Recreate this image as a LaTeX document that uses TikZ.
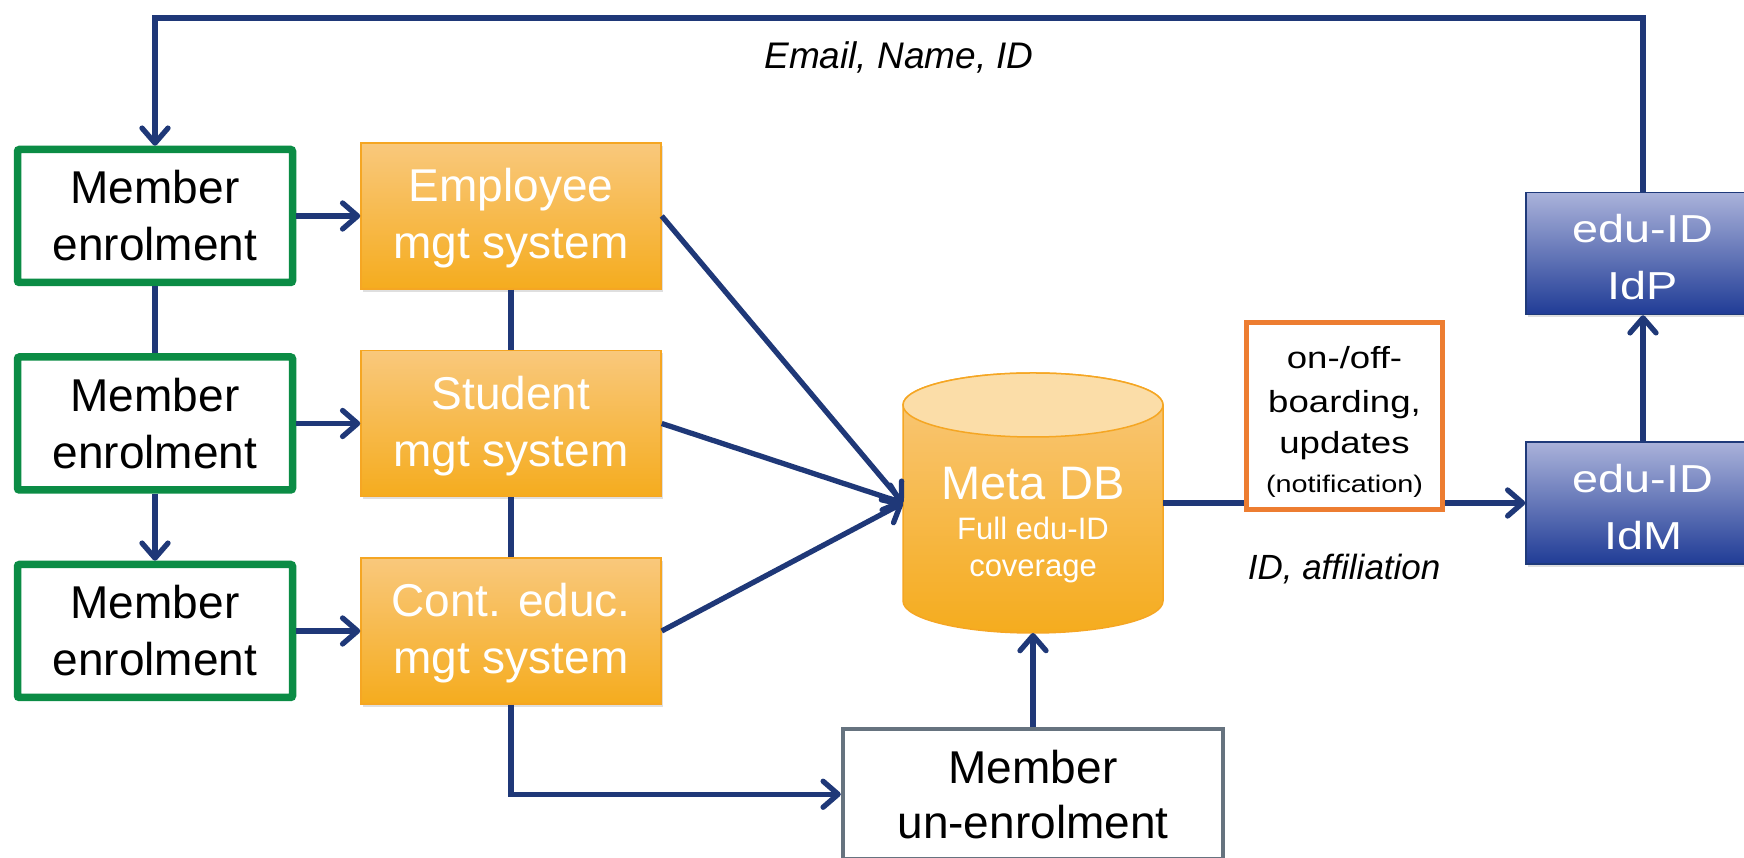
\documentclass[tikz,border=0pt]{standalone}
\usepackage{fontspec}
\setmainfont{Liberation Sans}
\newfontfamily\wfont[FakeStretch=1.2]{Liberation Sans}
\usetikzlibrary{positioning,arrows.meta,shadows}
\definecolor{linkblue}{RGB}{31,56,120}
\definecolor{enrolgreen}{RGB}{11,140,69}
\definecolor{sysorange}{RGB}{245,166,35}
\definecolor{systop}{RGB}{249,200,124}
\definecolor{sysbot}{RGB}{245,172,30}
\definecolor{dbtop}{RGB}{251,221,168}
\definecolor{notiforange}{RGB}{237,125,49}
\definecolor{idtop}{RGB}{170,178,218}
\definecolor{idbot}{RGB}{32,60,150}
\definecolor{idborder}{RGB}{31,58,122}
\definecolor{ungray}{RGB}{102,115,127}

\begin{document}
\begin{tikzpicture}[x=1pt,y=1pt,->,>={Straight Barb[length=15pt,width=26pt,round]},node distance=64pt,
	member/.style={draw=enrolgreen,line width=7.5pt,rounded corners=2pt,fill=white,minimum width=275pt,minimum height=133pt,align=center,font=\fontsize{46}{57}\selectfont},
	sysbox/.style={draw=sysorange,line width=1.5pt,top color=systop,bottom color=sysbot,minimum width=300pt,minimum height=146pt,align=center,text=white,font=\fontsize{46}{57}\selectfont,drop shadow={opacity=0.25,shadow xshift=1.5pt,shadow yshift=-3pt}},
	idbox/.style={draw=idborder,line width=1.5pt,top color=idtop,bottom color=idbot,minimum width=234pt,minimum height=122pt,align=center,text=white,font=\wfont\fontsize{39}{57}\selectfont,drop shadow={opacity=0.25,shadow xshift=1.5pt,shadow yshift=-3pt}},
	unbox/.style={draw=ungray,line width=4.5pt,fill=white,minimum width=380pt,minimum height=130pt,align=center,font=\fontsize{46}{55}\selectfont},
	notif/.style={draw=notiforange,line width=5pt,fill=white,minimum width=196pt,minimum height=187pt,inner sep=0pt,align=center,font=\wfont\fontsize{30.5}{42}\selectfont},
	dbbody/.style={minimum width=260pt,minimum height=260pt,inner sep=0pt,outer sep=0pt},
	link/.style={draw=linkblue,line width=5.3pt},
	flowlabel/.style={inner sep=0pt,font=\itshape\fontsize{37}{44}\selectfont}]
	\useasboundingbox (0,0) rectangle (1744,858);
	\clip (0,0) rectangle (1744,858);

	% enrolment and source systems
	\node[member] (m1) at (155,642) {Member\\enrolment};
	\node[member] (m2) [below=67pt of m1] {Member\\enrolment};
	\node[member] (m3) [below=67pt of m2] {Member\\enrolment};
	\node[sysbox] (sys1) [right=of m1] {\rule{0pt}{38pt}Employee\\mgt system};
	\node[sysbox] (sys2) [right=of m2] {\rule{0pt}{38pt}Student\\mgt system};
	\node[sysbox] (sys3) [right=of m3] {\rule{0pt}{38pt}Cont. educ.\\mgt system};

	% meta DB
	\node[dbbody] (db) at (1033,355) {};
	\filldraw[-,top color=systop,bottom color=sysbot,draw=sysorange,line width=1.5pt]
		([yshift=-32pt]db.north west) -- ([yshift=32pt]db.south west)
		arc[start angle=180,end angle=360,x radius=130pt,y radius=32pt]
		-- ([yshift=-32pt]db.north east)
		arc[start angle=0,end angle=180,x radius=130pt,y radius=32pt] -- cycle;
	\filldraw[-,fill=dbtop,draw=sysorange,line width=1.5pt] ([yshift=-32pt]db.north) ellipse[x radius=130pt,y radius=32pt];
	\node[text=white,align=center,font=\fontsize{31}{37}\selectfont] (dbtext) at ([yshift=-22pt]db.center)
		{{\fontsize{47}{50}\selectfont Meta DB}\\[3pt]Full edu-ID\\coverage};

	\node[unbox] (unenrol) [below=94pt of db] {Member\\un-enrolment};
	\node[idbox] (idm) at (1643,355) {\rule{0pt}{36pt}edu-ID\\IdM};
	\node[idbox] (idp) [above=126pt of idm] {\rule{0pt}{36pt}edu-ID\\IdP};

	\draw[link,-] (m1) -- (m2);
	\draw[link] (m2) -- (m3);
	\draw[link] (m1) edge (sys1) (m2) edge (sys2) (m3) edge (sys3);
	\draw[link,-] (sys1) -- (sys2) (sys2) -- (sys3);
	\foreach \s in {sys1,sys2,sys3}
		\draw[link] (\s.east) -- (db.west);
	\draw[link] (sys3.south) |- (unenrol.west);
	\draw[link] (unenrol) -- (db);
	\draw[link] (db) -- node[flowlabel,below=48pt,font=\itshape\fontsize{35}{42}\selectfont] {ID, affiliation} (idm);
	\draw[link] (idm) -- (idp);

	% feedback to enrolment
	\coordinate (top) at (0,840);
	\draw[link] (idp.north) -- (idp.north |- top) -- node[flowlabel,below=21pt] {Email, Name, ID} (m1.north |- top) -- (m1.north);

	\node[notif] (note) at (1344.5,442) {\rule{0pt}{33pt}on-/off-\\[2pt]boarding,\\[-1pt]updates\\[-3pt]{\fontsize{24}{28}\selectfont(notification)}};
\end{tikzpicture}
\end{document}
